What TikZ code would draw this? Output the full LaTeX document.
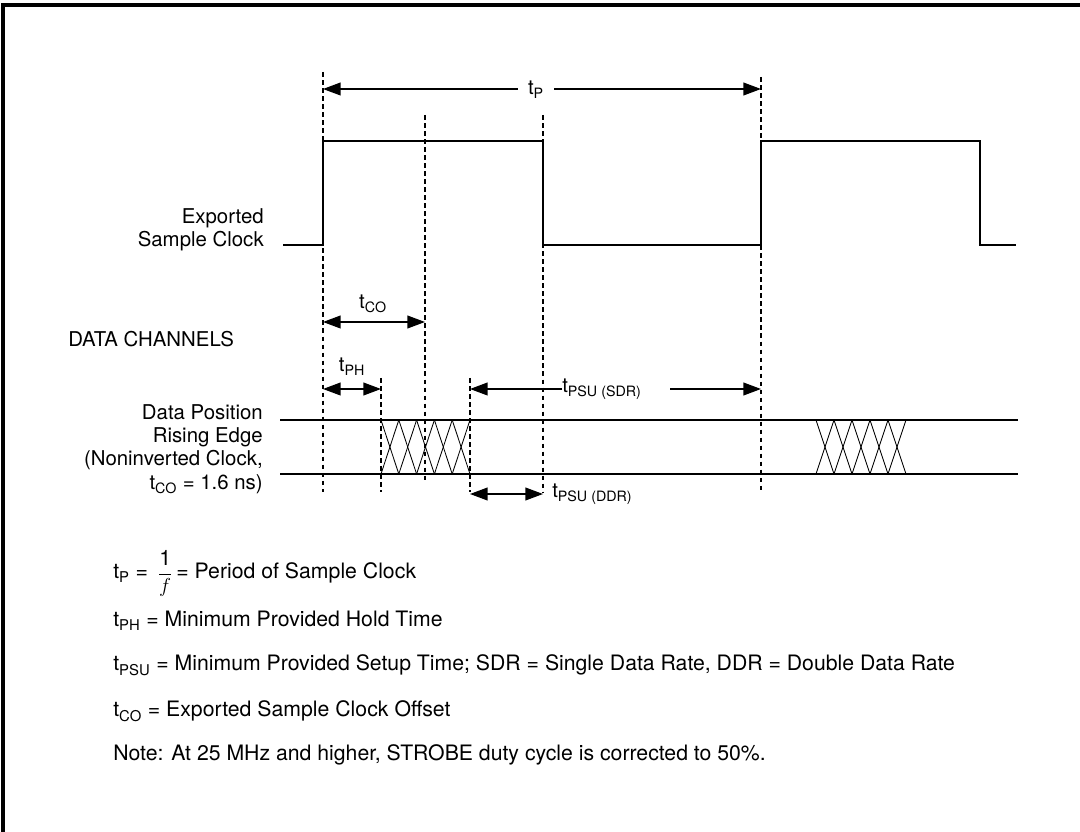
\documentclass[tikz,border=0pt]{standalone}
\usepackage{amsmath}
\usepackage{fontspec}
\setmainfont{TeX Gyre Heros}
\usetikzlibrary{arrows.meta}

\newcommand\tsub[1]{\textsubscript{#1}}

\tikzset{
  sig/.style={line width=0.9pt},
  xing/.style={line width=0.6pt},
  edgeline/.style={line width=0.85pt, dash pattern=on 3.3pt off 2.4pt},
  tip/.tip={Triangle[length=4.4mm,width=3.2mm]},
  dim/.style={line width=0.9pt, tip-tip},
  half/.style={line width=0.9pt, -tip},
  lbl/.style={inner sep=0pt, font=\fontsize{14.5}{17}\selectfont},
  legend/.style={lbl, anchor=base west, font=\fontsize{15.1}{18}\selectfont},
}

\begin{document}
\begin{tikzpicture}[x=0.025cm,y=-0.025cm]
  \useasboundingbox (0,0) rectangle (1080,832);
  % frame: only its top and left sides fall on the page
  \draw[line width=2.2pt] (3,845) -- (3,5) -- (1090,5);

  \def\hi{141} \def\lo{245}   % clock levels
  \def\dt{420} \def\db{474}   % data band
  % edges of the clock and of the data window
  \coordinate (e1) at (323,72);    % rising edge
  \coordinate (e2) at (425,115);   % end of t_CO
  \coordinate (e3) at (543,115);   % falling edge
  \coordinate (e4) at (761,77);    % next rising edge
  \coordinate (w1) at (381,378);   % end of hold
  \coordinate (w2) at (470,378);   % start of setup
  \coordinate (bot) at (0,492);
  \coordinate (botCO) at (0,482);
  % rows of the dimension arrows
  \coordinate (yP) at (0,89);
  \coordinate (yCO) at (0,322);
  \coordinate (yPH) at (0,389);
  \coordinate (yDDR) at (0,494);

  % dashed edge markers
  \foreach \e in {e1,e3,e4,w1,w2}
    \draw[edgeline] (\e) -- (\e |- bot);
  \draw[edgeline] (e2) -- (e2 |- botCO);

  % exported sample clock
  \draw[sig] (283,\lo) -- (e1 |- 0,\lo) -- (e1 |- 0,\hi) -- (e3 |- 0,\hi)
    -- (e3 |- 0,\lo) -- (e4 |- 0,\lo) -- (e4 |- 0,\hi) -- (980,\hi)
    -- (980,\lo) -- (1016,\lo);
  \node[lbl, anchor=base east] (clk1) at (264,224) {Exported};
  \node[lbl, anchor=base east] (clk2) at (264,247) {Sample Clock};

  % data band with the two transition windows
  \draw[sig] (280,\dt) -- (1018,\dt);
  \draw[sig] (280,\db) -- (1018,\db);
  \foreach \xs/\s in {381/17.8, 816/18}{
    \foreach \i in {0,...,4}{
      \draw[xing] ({\xs+\i*\s},\dt) -- ({\xs+(\i+1)*\s},\db);
      \draw[xing] ({\xs+\i*\s},\db) -- ({\xs+(\i+1)*\s},\dt);
    }
  }
  \node[lbl, anchor=base west] (chan) at (68,347) {DATA CHANNELS};
  \node[lbl, anchor=base east] (dp1) at (263,420) {Data Position};
  \node[lbl, anchor=base east] (dp2) at (263,443) {Rising Edge};
  \node[lbl, anchor=base east] (dp3) at (263,466) {(Noninverted Clock,};
  \node[lbl, anchor=base east] (dp4) at (263,490) {t\tsub{CO} = 1.6 ns)};

  % period
  \node[lbl, anchor=base, inner xsep=7pt] (tP) at (536,95) {t\tsub{P}};
  \draw[half] (tP.west |- yP) -- (e1 |- yP);
  \draw[half] (tP.east |- yP) -- (e4 |- yP);
  % clock offset and hold
  \node[lbl, anchor=base] (tCO) at (373,309) {t\tsub{CO}};
  \draw[dim] (e1 |- yCO) -- (e2 |- yCO);
  \node[lbl, anchor=base] (tPH) at (352,372) {t\tsub{PH}};
  \draw[dim] (e1 |- yPH) -- (w1 |- yPH);
  % setup, single and double data rate
  \node[lbl, anchor=base west] (tSDR) at (562,393) {t\tsub{PSU (SDR)}};
  \coordinate (sdrR) at (670,389);
  \draw[half] (tSDR.west |- yPH) -- (w2 |- yPH);
  \draw[half] (sdrR) -- (e4 |- yPH);
  \draw[dim] (w2 |- yDDR) -- (e3 |- yDDR);
  \node[lbl, anchor=base west] (tDDR) at (552,498) {t\tsub{PSU (DDR)}};

  % legend
  \node[legend] (lg1) at (113,579)
    {t\tsub{P} = \,$\dfrac{\text{1}}{f}$\,= Period of Sample Clock};
  \node[legend] (lg2) at (113,627)
    {t\tsub{PH} = Minimum Provided Hold Time};
  \node[legend] (lg3) at (113,671)
    {t\tsub{PSU} = Minimum Provided Setup Time; SDR = Single Data Rate, DDR = Double Data Rate};
  \node[legend] (lg4) at (113,717)
    {t\tsub{CO} = Exported Sample Clock Offset};
  \node[legend] (lg5) at (113,760)
    {Note: At 25 MHz and higher, STROBE duty cycle is corrected to 50\%.};
\end{tikzpicture}
\end{document}
